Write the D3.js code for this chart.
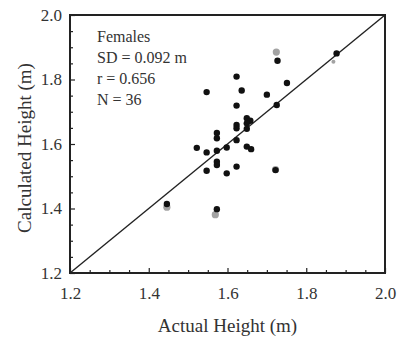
<!DOCTYPE html>
<html>
<head>
<meta charset="utf-8">
<script src="https://cdn.jsdelivr.net/npm/d3@7"></script>
<style>
  body { margin: 0; background: #fff; }
  text { font-family: "Liberation Serif", "DejaVu Serif", serif; fill: #333; }
</style>
</head>
<body>
<svg width="400" height="340"></svg>
<script>
// black points: actual vs calculated height (m)
var actual = [1.727, 1.877, 1.623, 1.751, 1.547, 1.636, 1.700, 1.623, 1.725, 1.649,
  1.658, 1.623, 1.623, 1.649, 1.649, 1.573, 1.573, 1.623, 1.522, 1.547,
  1.573, 1.598, 1.649, 1.660, 1.573, 1.573, 1.547, 1.598, 1.623, 1.722,
  1.573, 1.446];
var calculated = [1.858, 1.881, 1.809, 1.789, 1.761, 1.766, 1.753, 1.719, 1.721, 1.680,
  1.672, 1.659, 1.649, 1.664, 1.647, 1.634, 1.618, 1.612, 1.588, 1.574,
  1.579, 1.589, 1.592, 1.584, 1.545, 1.535, 1.517, 1.509, 1.530, 1.519,
  1.398, 1.414];

// grey points
var greyActual = [1.724, 1.869, 1.446, 1.569, 1.722];
var greyCalculated = [1.885, 1.855, 1.404, 1.381, 1.521];

var notes = ["Females", "SD = 0.092 m", "r = 0.656", "N = 36"];
var majorTicks = [1.2, 1.4, 1.6, 1.8, 2.0];
var minorTicks = d3.range(1.25, 2.0, 0.05).filter(function(v) {
  return Math.abs(Math.round(v * 5) - v * 5) > 0.01;
});

var svg = d3.select("svg"),
    plotLeft = 70, plotRight = 385, plotTop = 15, plotBottom = 273;

var x = d3.scaleLinear().domain([1.2, 2.0]).range([plotLeft, plotRight]);
var y = d3.scaleLinear().domain([1.2, 2.0]).range([plotBottom, plotTop]);

// minor ticks
svg.append("g")
  .attr("transform", "translate(0," + plotBottom + ")")
  .call(d3.axisBottom(x).tickValues(minorTicks).tickSize(-3).tickFormat(""))
  .call(function(g) { g.select(".domain").remove(); });
svg.append("g")
  .attr("transform", "translate(" + plotLeft + ",0)")
  .call(d3.axisLeft(y).tickValues(minorTicks).tickSize(-3).tickFormat(""))
  .call(function(g) { g.select(".domain").remove(); });

// major ticks with labels
var xAxis = svg.append("g")
  .attr("transform", "translate(0," + plotBottom + ")")
  .call(d3.axisBottom(x).tickValues(majorTicks).tickSize(-5).tickPadding(14).tickFormat(d3.format(".1f")));
var yAxis = svg.append("g")
  .attr("transform", "translate(" + plotLeft + ",0)")
  .call(d3.axisLeft(y).tickValues(majorTicks).tickSize(-5).tickPadding(8).tickFormat(d3.format(".1f")));

[xAxis, yAxis].forEach(function(g) {
  g.select(".domain").remove();
  g.selectAll("text").style("font-family", "Liberation Serif").style("font-size", "17px").attr("fill", "#333");
});
svg.selectAll(".tick line").attr("stroke", "#222").attr("stroke-width", 1.2);

// 1:1 line
svg.append("line")
  .attr("x1", x(1.2)).attr("y1", y(1.2))
  .attr("x2", x(2.0)).attr("y2", y(2.0))
  .attr("stroke", "#222").attr("stroke-width", 1.4);

// grey markers
svg.append("g").selectAll("circle")
  .data(greyActual)
  .enter().append("circle")
  .attr("cx", function(d) { return x(d); })
  .attr("cy", function(d, i) { return y(greyCalculated[i]); })
  .attr("r", function(d, i) { return i == 1 ? 2 : 3.6; })
  .attr("fill", "#a3a3a3");

// black markers
svg.append("g").selectAll("circle")
  .data(actual)
  .enter().append("circle")
  .attr("cx", function(d) { return x(d); })
  .attr("cy", function(d, i) { return y(calculated[i]); })
  .attr("r", 3.2)
  .attr("fill", "#111");

// frame
svg.append("rect")
  .attr("x", plotLeft).attr("y", plotTop)
  .attr("width", plotRight - plotLeft).attr("height", plotBottom - plotTop)
  .attr("fill", "none").attr("stroke", "#222").attr("stroke-width", 2);

// notes
svg.append("g").selectAll("text")
  .data(notes)
  .enter().append("text")
  .attr("x", 97)
  .attr("y", function(d, i) { return 41.5 + i * 21.2; })
  .style("font-size", "16px")
  .text(function(d) { return d; });

// axis titles
svg.append("text")
  .attr("x", (plotLeft + plotRight) / 2)
  .attr("y", 332)
  .attr("text-anchor", "middle")
  .style("font-size", "19px")
  .text("Actual Height (m)");
svg.append("text")
  .attr("transform", "translate(31," + ((plotTop + plotBottom) / 2 + 4) + ") rotate(-90)")
  .attr("text-anchor", "middle")
  .style("font-size", "19px")
  .text("Calculated Height (m)");
</script>
</body>
</html>
